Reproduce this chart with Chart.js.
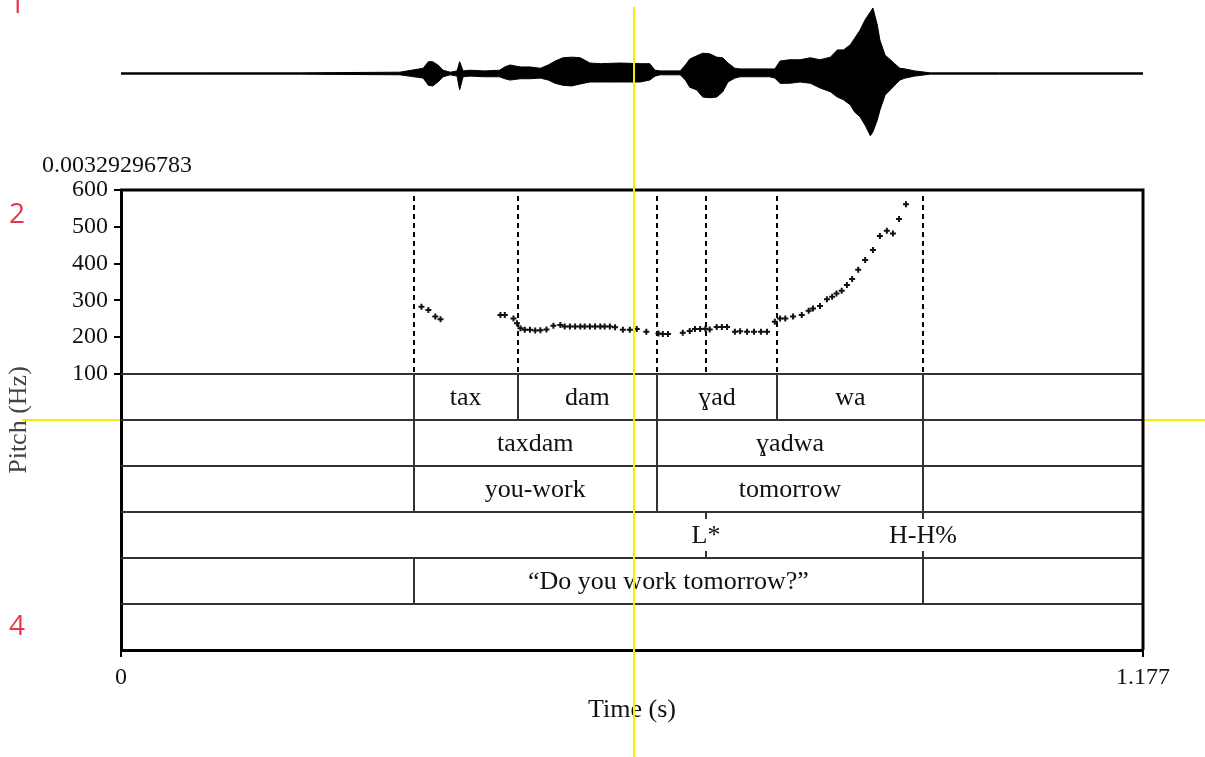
<!DOCTYPE html>
<html><head><meta charset="utf-8">
<script src="https://cdn.jsdelivr.net/npm/chart.js@4.4.1/dist/chart.umd.min.js"></script>
<style>
html,body{margin:0;padding:0;background:#fff;width:1205px;height:757px;overflow:hidden;}
#wrap{position:relative;width:1205px;height:757px;}
canvas{position:absolute;left:0;top:0;}
</style></head><body>
<div id="wrap">
<canvas id="wave" width="1205" height="150"></canvas>
<canvas id="main" width="1205" height="757"></canvas>
</div>
<script>
// ---------- data ----------
const timeMax = 1.177;
const xTickValues = [0, 1.177];
const pitchTicks = [100, 200, 300, 400, 500, 600];
const valueLabel = '0.00329296783';

const pitchTimes = [0.346,0.354,0.362,0.368,
 0.437,0.442,0.452,0.456,0.460,0.465,0.471,0.477,0.483,0.490,
 0.498,0.506,0.511,0.517,0.523,0.529,0.534,0.540,0.546,0.552,
 0.557,0.563,0.569,0.578,0.586,0.594,0.605,0.619,0.624,0.630,
 0.647,0.655,0.661,0.667,0.673,0.678,0.686,0.692,0.698,0.707,
 0.713,0.721,0.729,0.737,0.744,0.753,0.759,0.765,0.774,0.784,
 0.792,0.797,0.805,0.813,0.819,0.824,0.830,0.836,0.842,0.849,
 0.857,0.866,0.874,0.882,0.889,0.896,0.904];
const pitchHz = [283,274,256,249,
 260,260,251,238,224,220,220,218,219,221,
 231,233,229,229,229,229,229,229,229,229,
 229,229,227,220,220,222,215,210,209,209,
 212,217,222,222,223,221,228,228,228,215,
 216,215,215,215,215,242,251,251,256,260,
 272,278,285,303,310,319,326,342,358,383,
 410,437,475,489,482,521,561];

const waveTimes = [0.000,0.091,0.206,0.321,0.348,0.354,0.359,0.365,0.371,0.379,0.387,0.390,0.394,0.402,0.419,0.436,0.442,0.448,0.460,0.471,0.483,0.492,0.500,0.509,0.519,0.529,0.540,0.552,0.575,0.598,0.609,0.615,0.621,0.644,0.650,0.655,0.663,0.670,0.678,0.686,0.693,0.699,0.707,0.713,0.747,0.753,0.759,0.770,0.782,0.794,0.805,0.817,0.825,0.832,0.840,0.845,0.851,0.857,0.863,0.866,0.871,0.874,0.880,0.886,0.891,0.897,0.903,0.914,0.932,1.012,1.177];
const waveUpper = [0.01,0.01,0.01,0.02,0.08,0.18,0.18,0.13,0.05,0.02,0.04,0.18,0.04,0.05,0.04,0.05,0.10,0.13,0.10,0.10,0.08,0.13,0.19,0.24,0.25,0.24,0.16,0.15,0.16,0.15,0.15,0.05,0.04,0.04,0.13,0.22,0.27,0.31,0.30,0.25,0.24,0.16,0.08,0.07,0.07,0.07,0.19,0.21,0.21,0.24,0.21,0.25,0.36,0.36,0.44,0.54,0.66,0.82,0.94,1.00,0.74,0.51,0.28,0.21,0.15,0.08,0.07,0.04,0.01,0.01,0.01];
const waveLower = [-0.01,-0.01,-0.01,-0.02,-0.07,-0.18,-0.19,-0.13,-0.05,-0.02,-0.04,-0.25,-0.05,-0.04,-0.05,-0.05,-0.08,-0.10,-0.08,-0.08,-0.07,-0.10,-0.15,-0.18,-0.19,-0.16,-0.13,-0.13,-0.13,-0.13,-0.10,-0.04,-0.02,-0.02,-0.10,-0.21,-0.25,-0.36,-0.37,-0.36,-0.28,-0.13,-0.07,-0.05,-0.05,-0.07,-0.15,-0.15,-0.13,-0.15,-0.22,-0.28,-0.36,-0.40,-0.48,-0.59,-0.66,-0.79,-0.95,-0.89,-0.71,-0.56,-0.33,-0.25,-0.18,-0.10,-0.07,-0.04,-0.01,-0.01,-0.01];

const dashedTimes = [0.337, 0.457, 0.617, 0.674, 0.756, 0.924];
const tier1Edges = [0.337, 0.457, 0.617, 0.756, 0.924];
const tier1Labels = ['tax', 'dam', 'ɣad', 'wa'];
const tier2Edges = [0.337, 0.617, 0.924];
const tier2Labels = ['taxdam', 'ɣadwa'];
const tier3Edges = [0.337, 0.617, 0.924];
const tier3Labels = ['you-work', 'tomorrow'];
const tier4Points = [0.674, 0.924];
const tier4Labels = ['L*', 'H-H%'];
const tier5Edges = [0.337, 0.924];
const tier5Labels = ['“Do you work tomorrow?”'];
const tier6Edges = [];
const tier6Labels = [];
const cursorTime = 0.5908;
const panelNumbers = ['1', '2', '4'];

// ---------- drawing ----------
const serif = "'Liberation Serif','Times New Roman',serif";
const intervalTiers = [
  {edges: tier1Edges, labels: tier1Labels},
  {edges: tier2Edges, labels: tier2Labels},
  {edges: tier3Edges, labels: tier3Labels},
  null,
  {edges: tier5Edges, labels: tier5Labels},
  {edges: tier6Edges, labels: tier6Labels}
];
const pitchTierCount = 4; // pitch panel occupies 4 tier-heights on the tier scale

const annot = {
  id: 'annot',
  beforeDraw(chart) {
    const {ctx, scales: {tier}} = chart;
    ctx.save();
    ctx.strokeStyle = '#f2f000'; ctx.lineWidth = 2;
    const hy = Math.round(tier.getPixelForValue(pitchTierCount + 1));
    ctx.beginPath(); ctx.moveTo(22, hy); ctx.lineTo(chart.width, hy); ctx.stroke();
    ctx.restore();
  },
  beforeDatasetsDraw(chart) {
    const {ctx, chartArea: a, scales: {x, y}} = chart;
    ctx.save();
    ctx.setLineDash([5, 4]); ctx.lineWidth = 2; ctx.strokeStyle = '#000';
    const yb = y.getPixelForValue(pitchTicks[0]);
    dashedTimes.forEach(t => {
      const px = Math.round(x.getPixelForValue(t));
      ctx.beginPath(); ctx.moveTo(px, a.top + 6); ctx.lineTo(px, yb); ctx.stroke();
    });
    ctx.restore();
  },
  afterDatasetsDraw(chart) {
    const {ctx, chartArea: a, scales: {x, tier}} = chart;
    ctx.save();
    ctx.strokeStyle = '#333'; ctx.lineWidth = 2;
    for (let k = pitchTierCount; k < pitchTierCount + 6; k++) {
      const py = Math.round(tier.getPixelForValue(k));
      ctx.beginPath(); ctx.moveTo(a.left, py); ctx.lineTo(a.right, py); ctx.stroke();
    }
    ctx.font = `26px ${serif}`; ctx.fillStyle = '#111';
    ctx.textAlign = 'center'; ctx.textBaseline = 'middle';
    intervalTiers.forEach((tr, i) => {
      const top = tier.getPixelForValue(pitchTierCount + i);
      const bot = tier.getPixelForValue(pitchTierCount + i + 1);
      const mid = (top + bot) / 2;
      if (tr) {
        tr.edges.forEach(t => {
          const px = Math.round(x.getPixelForValue(t));
          ctx.beginPath(); ctx.moveTo(px, top); ctx.lineTo(px, bot); ctx.stroke();
        });
        tr.labels.forEach((lab, j) => {
          const cx = (x.getPixelForValue(tr.edges[j]) + x.getPixelForValue(tr.edges[j + 1])) / 2;
          ctx.fillText(lab, cx, mid + 1);
        });
      } else {
        tier4Points.forEach((t, j) => {
          const px = Math.round(x.getPixelForValue(t));
          ctx.beginPath(); ctx.moveTo(px, top); ctx.lineTo(px, top + 7); ctx.stroke();
          ctx.beginPath(); ctx.moveTo(px, bot - 7); ctx.lineTo(px, bot); ctx.stroke();
          ctx.fillText(tier4Labels[j], px, mid + 1);
        });
      }
    });
    ctx.strokeStyle = '#000'; ctx.lineWidth = 3;
    ctx.beginPath(); ctx.moveTo(a.left - 1, a.top); ctx.lineTo(a.right, a.top); ctx.lineTo(a.right, a.bottom); ctx.stroke();
    ctx.restore();
  },
  afterDraw(chart) {
    const {ctx, scales: {x, y}} = chart;
    ctx.save();
    ctx.font = `24px ${serif}`; ctx.fillStyle = '#111';
    ctx.textAlign = 'left'; ctx.textBaseline = 'middle';
    ctx.fillText(valueLabel, 42, y.getPixelForValue(pitchTicks[5]) - 24);
    ctx.font = "28px 'Open Sans','Noto Sans',sans-serif"; ctx.fillStyle = '#e8354f';
    ctx.textAlign = 'center';
    ctx.fillText(panelNumbers[0], 17, 5);
    ctx.fillText(panelNumbers[1], 17, 215);
    ctx.fillText(panelNumbers[2], 17, 627);
    ctx.strokeStyle = '#f2f000'; ctx.lineWidth = 2;
    const cx = Math.round(x.getPixelForValue(cursorTime));
    ctx.beginPath(); ctx.moveTo(cx, 7); ctx.lineTo(cx, chart.height); ctx.stroke();
    ctx.restore();
  }
};

new Chart(document.getElementById('main'), {
  type: 'scatter',
  data: { datasets: [{
    data: pitchTimes.map((t, i) => ({x: t, y: pitchHz[i]})),
    pointStyle: 'cross', pointRadius: 3, borderWidth: 2,
    borderColor: '#111', backgroundColor: '#111', showLine: false
  }]},
  options: {
    responsive: false, animation: false, devicePixelRatio: 1,
    layout: {padding: {top: 190, right: 62, left: 0, bottom: 0}},
    plugins: {legend: {display: false}, tooltip: {enabled: false}},
    scales: {
      x: {
        type: 'linear', min: 0, max: timeMax,
        afterBuildTicks: s => { s.ticks = xTickValues.map(v => ({value: v})); },
        ticks: {callback: v => String(v), font: {family: serif, size: 24}, color: '#111', padding: 6, maxRotation: 0, autoSkip: false},
        grid: {drawOnChartArea: false, drawTicks: true, tickLength: 7, color: '#000', lineWidth: 2},
        border: {display: true, color: '#000', width: 3},
        title: {display: true, text: 'Time (s)', font: {family: serif, size: 26}, color: '#111', padding: {top: 0, bottom: 31}},
        afterFit: s => { s.height = 107; }
      },
      y: {
        type: 'linear', min: -650, max: 600,
        afterBuildTicks: s => { s.ticks = pitchTicks.map(v => ({value: v})); },
        ticks: {font: {family: serif, size: 24}, color: '#111', padding: 6, autoSkip: false},
        grid: {drawOnChartArea: false, drawTicks: true, tickLength: 7, color: '#000', lineWidth: 2},
        border: {display: true, color: '#000', width: 3},
        title: {display: true, text: 'Pitch (Hz)', font: {family: serif, size: 26}, color: '#444', padding: {top: 4, bottom: 0}},
        afterFit: s => { s.width = 121; }
      },
      tier: {type: 'linear', position: 'right', display: false, min: 0, max: 10, reverse: true}
    }
  },
  plugins: [annot]
});

new Chart(document.getElementById('wave'), {
  type: 'line',
  data: { datasets: [
    {data: waveTimes.map((t, i) => ({x: t, y: waveUpper[i]})), borderColor: '#000', borderWidth: 1, pointRadius: 0, fill: false, clip: false, tension: 0},
    {data: waveTimes.map((t, i) => ({x: t, y: waveLower[i]})), borderColor: '#000', borderWidth: 1, pointRadius: 0, fill: '-1', backgroundColor: '#000', clip: false, tension: 0}
  ]},
  options: {
    responsive: false, animation: false, devicePixelRatio: 1,
    layout: {padding: {left: 121, right: 62, top: 8, bottom: 11}},
    plugins: {legend: {display: false}, tooltip: {enabled: false}},
    scales: {
      x: {type: 'linear', display: false, min: 0, max: timeMax},
      y: {display: false, min: -1, max: 1}
    }
  }
});
</script>
</body></html>
